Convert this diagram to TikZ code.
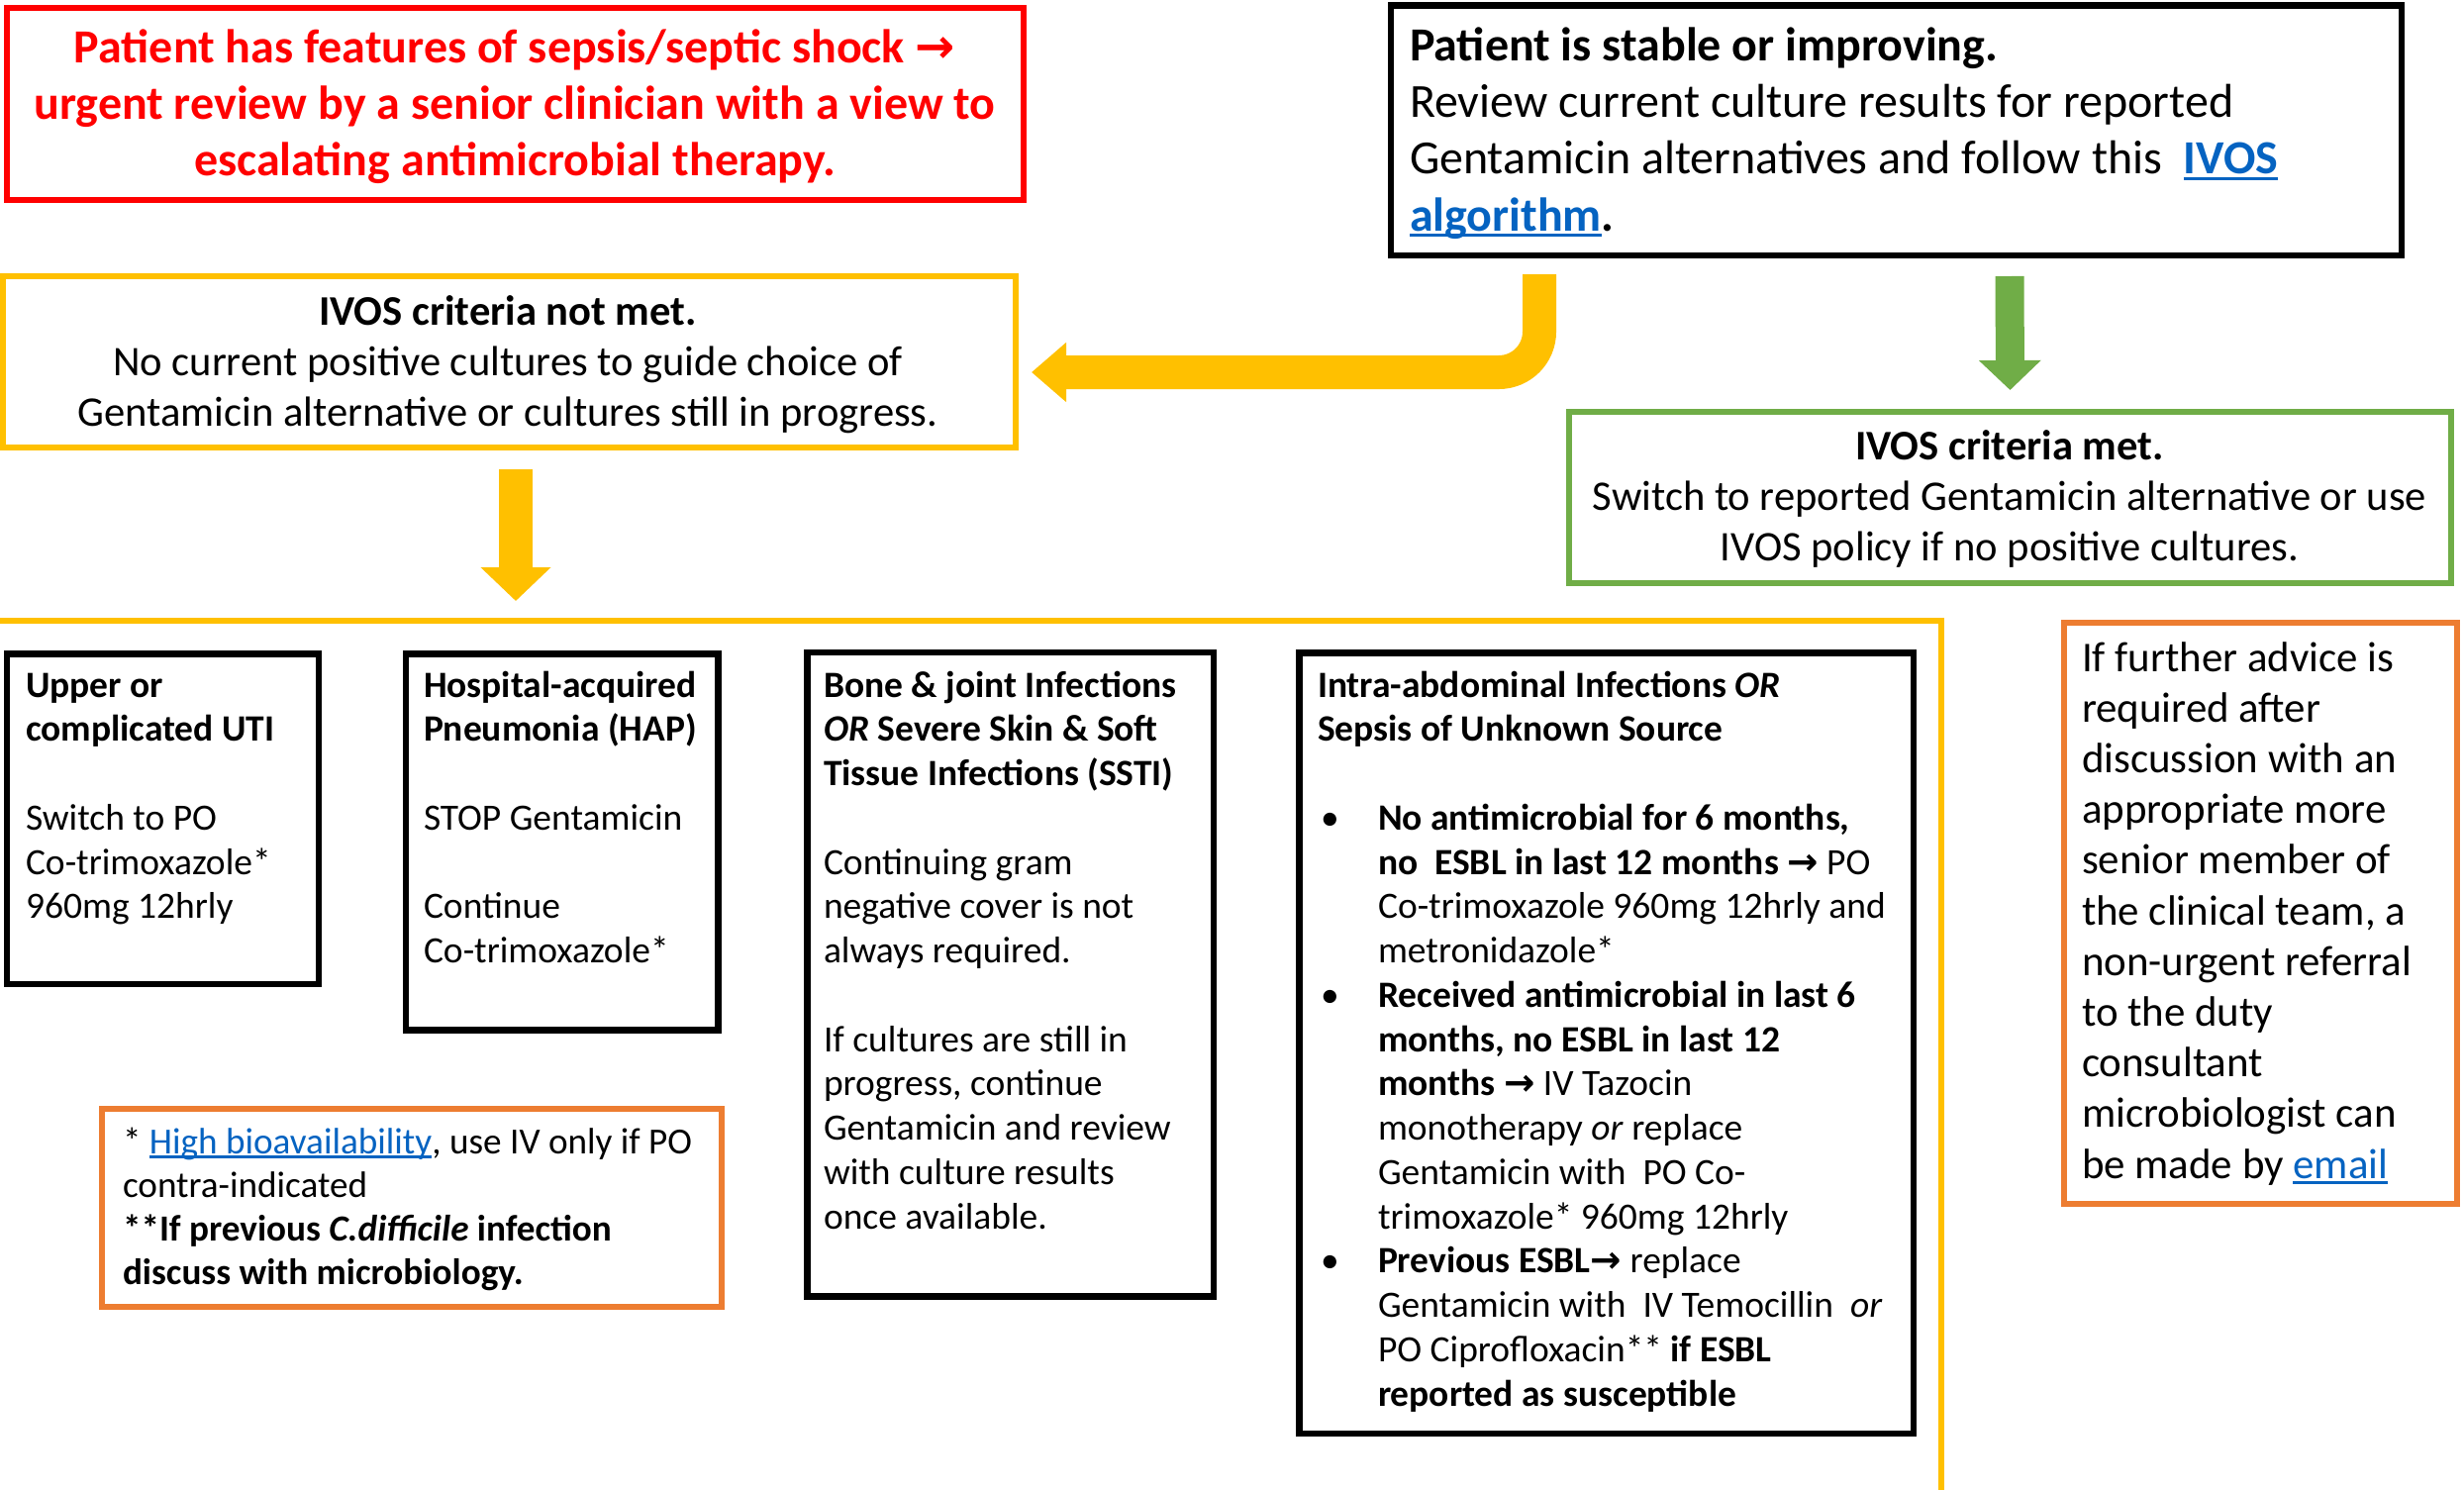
\documentclass[tikz,border=0pt]{standalone}
\usepackage{fontspec}
\setmainfont{Carlito}
\newfontfamily\symf{DejaVu Sans}
\usetikzlibrary{arrows.meta,calc}
\definecolor{amber}{HTML}{FFC000}
\definecolor{pgreen}{HTML}{70AD47}
\definecolor{porange}{HTML}{ED7D31}
\definecolor{pred}{HTML}{FF0000}
\definecolor{linkblue}{HTML}{0563C1}
\newcommand\arr{{\symf →}}
\newcommand\lnk[1]{{\color{linkblue}\setbox0\hbox{#1}\rlap{\rule[-0.13em]{\wd0}{0.065em}}\box0}}
\newcommand\bul{\makebox[61pt][l]{\hspace{3pt}\textbullet}}
\newcommand\ind{\hspace*{61pt}}
\tikzset{
  boxnode/.style={draw=#1, rectangle, inner sep=0pt, outer sep=0pt, line width=6pt},
  txt/.style={inner sep=0pt, outer sep=0pt, text=black},
  midfont/.style={font=\fontsize{42.6}{51}\selectfont},
  smallfont/.style={font=\fontsize{37.5}{44.75}\selectfont},
}
\begin{document}
\begin{tikzpicture}[x=1pt,y=-1pt]
\useasboundingbox (0,0) rectangle (2489,1505);
% boxes
\node[boxnode=pred, minimum width=1027pt, minimum height=194pt] (sepsis) at (520.5,104.5) {};
\node[boxnode=black, line width=6.5pt, minimum width=1021pt, minimum height=252.5pt] (stable) at (1915.5,131.75) {};
\node[boxnode=amber, minimum width=1023.5pt, minimum height=173pt] (notmet) at (514.25,365) {};
\node[boxnode=pgreen, minimum width=891pt, minimum height=173pt] (met) at (2030.5,502) {};
\node[boxnode=black, line width=6.5pt, minimum width=315pt, minimum height=333.5pt] (uti) at (164.5,827.25) {};
\node[boxnode=black, line width=6.5pt, minimum width=315.5pt, minimum height=380pt] (hap) at (567.75,850.5) {};
\node[boxnode=black, line width=6.5pt, minimum width=410.5pt, minimum height=650.5pt] (bone) at (1020.75,984.25) {};
\node[boxnode=porange, minimum width=626pt, minimum height=200.5pt] (foot) at (416,1219.75) {};
\node[boxnode=black, line width=6.5pt, minimum width=620.5pt, minimum height=788.5pt] (intra) at (1622.75,1053.75) {};
\node[boxnode=porange, minimum width=397.5pt, minimum height=586.5pt] (advice) at (2283.25,922.25) {};
% frame
\coordinate (fl) at (0,627);
\coordinate (fb) at (1961,1505);
\coordinate (frametop) at (521,627);
\draw[amber, line width=6pt] (fl) -| (fb);
% arrows
\draw[amber, line width=34pt, rounded corners=41pt, -{Triangle[length=35pt,width=58pt]}]
  ([xshift=-360.5pt,yshift=-19pt]stable.south) |- ([xshift=16pt,yshift=-11pt]notmet.east);
\draw[amber, line width=34pt, -{Triangle[length=34pt,width=69pt]}]
  ([xshift=6.75pt,yshift=-22.5pt]notmet.south) -- ([yshift=20pt]frametop);
\draw[pgreen, line width=29pt, -{Triangle[length=30pt,width=61pt]}]
  ([xshift=114.5pt,yshift=-21pt]stable.south) -- ([yshift=21.5pt]met.north);
% texts
\node[txt, text=pred, font={\fontsize{48}{57}\selectfont\bfseries}, align=center, anchor=north] (sepsisT) at (520,23.6)
 {\strut Patient has features of sepsis/septic shock \arr\\urgent review by a senior clinician with a view to\\escalating antimicrobial therapy.};
\node[txt, font=\fontsize{48}{57.2}\selectfont, align=left, anchor=north west] (stableT) at (1424,21.5)
 {\strut\textbf{Patient is stable or improving.}\\Review current culture results for reported\\Gentamicin alternatives and follow this\ \ \lnk{\textbf{IVOS}}\\\lnk{\textbf{algorithm}}\textbf{.}};
\node[txt, midfont, align=center, anchor=north] (notmetT) at (513,292.3)
 {\strut\textbf{IVOS criteria not met.}\\No current positive cultures to guide choice of\\Gentamicin alternative or cultures still in progress.};
\node[txt, midfont, align=center, anchor=north] (metT) at (2030,428.5)
 {\strut\textbf{IVOS criteria met.}\\Switch to reported Gentamicin alternative or use\\IVOS policy if no positive cultures.};
\node[txt, smallfont, align=left, anchor=north west] (utiT) at (26,672.7)
 {\strut\textbf{Upper or}\\\textbf{complicated UTI}\\[44.75pt]Switch to PO\\Co-trimoxazole*\\960mg 12hrly};
\node[txt, smallfont, align=left, anchor=north west] (hapT) at (428,672.7)
 {\strut\textbf{Hospital-acquired}\\\textbf{Pneumonia (HAP)}\\[44.75pt]STOP Gentamicin\\[44.75pt]Continue\\Co-trimoxazole*};
\node[txt, smallfont, align=left, anchor=north west] (boneT) at (832,672.7)
 {\strut\textbf{Bone \& joint Infections}\\\textbf{\textit{OR} Severe Skin \& Soft}\\\textbf{Tissue Infections (SSTI)}\\[44.75pt]Continuing gram\\negative cover is not\\always required.\\[44.75pt]If cultures are still in\\progress, continue\\Gentamicin and review\\with culture results\\once available.};
\node[txt, smallfont, align=left, anchor=north west] (intraT) at (1331,672.7)
 {\strut\textbf{Intra-abdominal Infections \textit{OR}}\\\textbf{Sepsis of Unknown Source}\\[44.75pt]
  \bul\textbf{No antimicrobial for 6 months,}\\
  \ind\textbf{no\ \ ESBL in last 12 months \arr} PO\\
  \ind Co-trimoxazole 960mg 12hrly and\\
  \ind metronidazole*\\
  \bul\textbf{Received antimicrobial in last 6}\\
  \ind\textbf{months, no ESBL in last 12}\\
  \ind\textbf{months \arr} IV Tazocin\\
  \ind monotherapy \textit{or} replace\\
  \ind Gentamicin with\ \ PO Co-\\
  \ind trimoxazole* 960mg 12hrly\\
  \bul\textbf{Previous ESBL\arr} replace\\
  \ind Gentamicin with\ \ IV Temocillin\ \ \textit{or}\\
  \ind PO Ciprofloxacin** \textbf{if ESBL}\\
  \ind\textbf{reported as susceptible}};
\node[txt, font=\fontsize{37.2}{44}\selectfont, align=left, anchor=north west] (footT) at (124,1134.2)
 {\strut * \lnk{High bioavailability}, use IV only if PO\\contra-indicated\\\textbf{**If previous \textit{C.difficile} infection}\\\textbf{discuss with microbiology.}};
\node[txt, font=\fontsize{42.9}{51.2}\selectfont, align=left, anchor=north west] (adviceT) at (2103,642.2)
 {\strut If further advice is\\required after\\discussion with an\\appropriate more\\senior member of\\the clinical team, a\\non-urgent referral\\to the duty\\consultant\\microbiologist can\\be made by \lnk{email}};
\end{tikzpicture}
\end{document}
